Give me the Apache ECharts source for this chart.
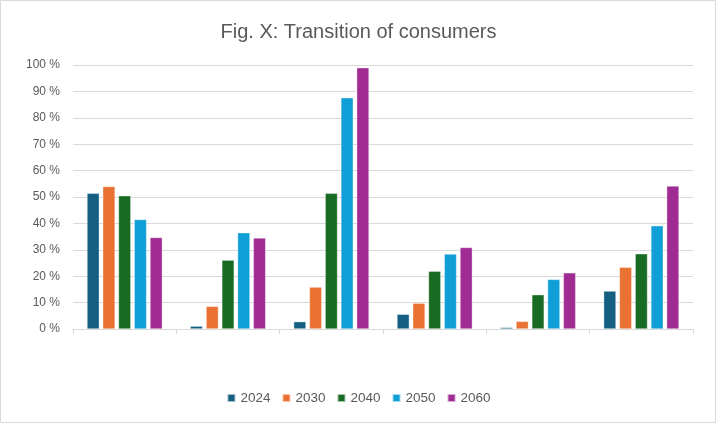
<!DOCTYPE html>
<html>
<head>
<meta charset="utf-8">
<script src="https://cdn.jsdelivr.net/npm/echarts@6/dist/echarts.min.js"></script>
<style>
html,body{margin:0;padding:0;background:#fff;}
#c{width:717px;height:425px;}
</style>
</head>
<body>
<div id="c"></div>
<script>
var categories = ['', '', '', '', '', ''];
var seriesNames = ['2024', '2030', '2040', '2050', '2060'];
var v2024 = [51.4, 1.1, 2.8, 5.6, 0.6, 14.4];
var v2030 = [54.0, 8.6, 15.9, 9.8, 2.9, 23.4];
var v2040 = [50.5, 26.1, 51.4, 21.9, 13.0, 28.5];
var v2050 = [41.5, 36.5, 87.6, 28.4, 18.8, 39.1];
var v2060 = [34.7, 34.5, 99.0, 30.9, 21.3, 54.2];
var yTicks = [0, 10, 20, 30, 40, 50, 60, 70, 80, 90, 100];

var values = [v2024, v2030, v2040, v2050, v2060];
var colors = ['#156082', '#E97132', '#196B24', '#0F9ED5', '#A02B93'];

var chart = echarts.init(document.getElementById('c'));
var series = seriesNames.map(function (n, i) {
  return {
    name: n,
    type: 'bar',
    data: values[i],
    barGap: '27%',
    barCategoryGap: '27%',
    itemStyle: { color: colors[i], borderColor: 'rgba(255,255,255,0.6)', borderWidth: 0.6 }
  };
});

chart.setOption({
  animation: false,
  color: colors,
  title: {
    text: 'Fig. X: Transition of consumers',
    left: 'center',
    top: 17,
    textStyle: { fontFamily: 'Liberation Sans, Arial, sans-serif', fontSize: 20, fontWeight: 'normal', color: '#595959' }
  },
  graphic: [{
    type: 'rect',
    shape: { x: 0.5, y: 0.5, width: 715, height: 422 },
    style: { fill: 'none', stroke: '#d9d9d9', lineWidth: 1 },
    silent: true
  }],
  legend: {
    data: seriesNames,
    bottom: 15,
    left: 'center',
    itemWidth: 8,
    itemHeight: 8,
    itemGap: 11,
    icon: 'rect',
    textStyle: { fontFamily: 'Liberation Sans, Arial, sans-serif', fontSize: 13.5, color: '#595959' }
  },
  grid: { left: 73, right: 24, top: 65, bottom: 96, containLabel: false },
  xAxis: {
    type: 'category',
    data: categories,
    boundaryGap: true,
    axisLine: { show: true, lineStyle: { color: '#d9d9d9', width: 1 } },
    axisTick: { show: true, alignWithLabel: false, length: 5, lineStyle: { color: '#d9d9d9' } },
    axisLabel: { show: false }
  },
  yAxis: {
    type: 'value',
    min: yTicks[0],
    max: yTicks[yTicks.length - 1],
    interval: 10,
    axisLine: { show: false },
    axisTick: { show: false },
    splitLine: { lineStyle: { color: '#d9d9d9', width: 1 } },
    axisLabel: {
      formatter: function (v) { return v + ' %'; },
      fontFamily: 'Liberation Sans, Arial, sans-serif',
      fontSize: 12,
      color: '#595959',
      margin: 13
    }
  },
  series: series
});
</script>
</body>
</html>
